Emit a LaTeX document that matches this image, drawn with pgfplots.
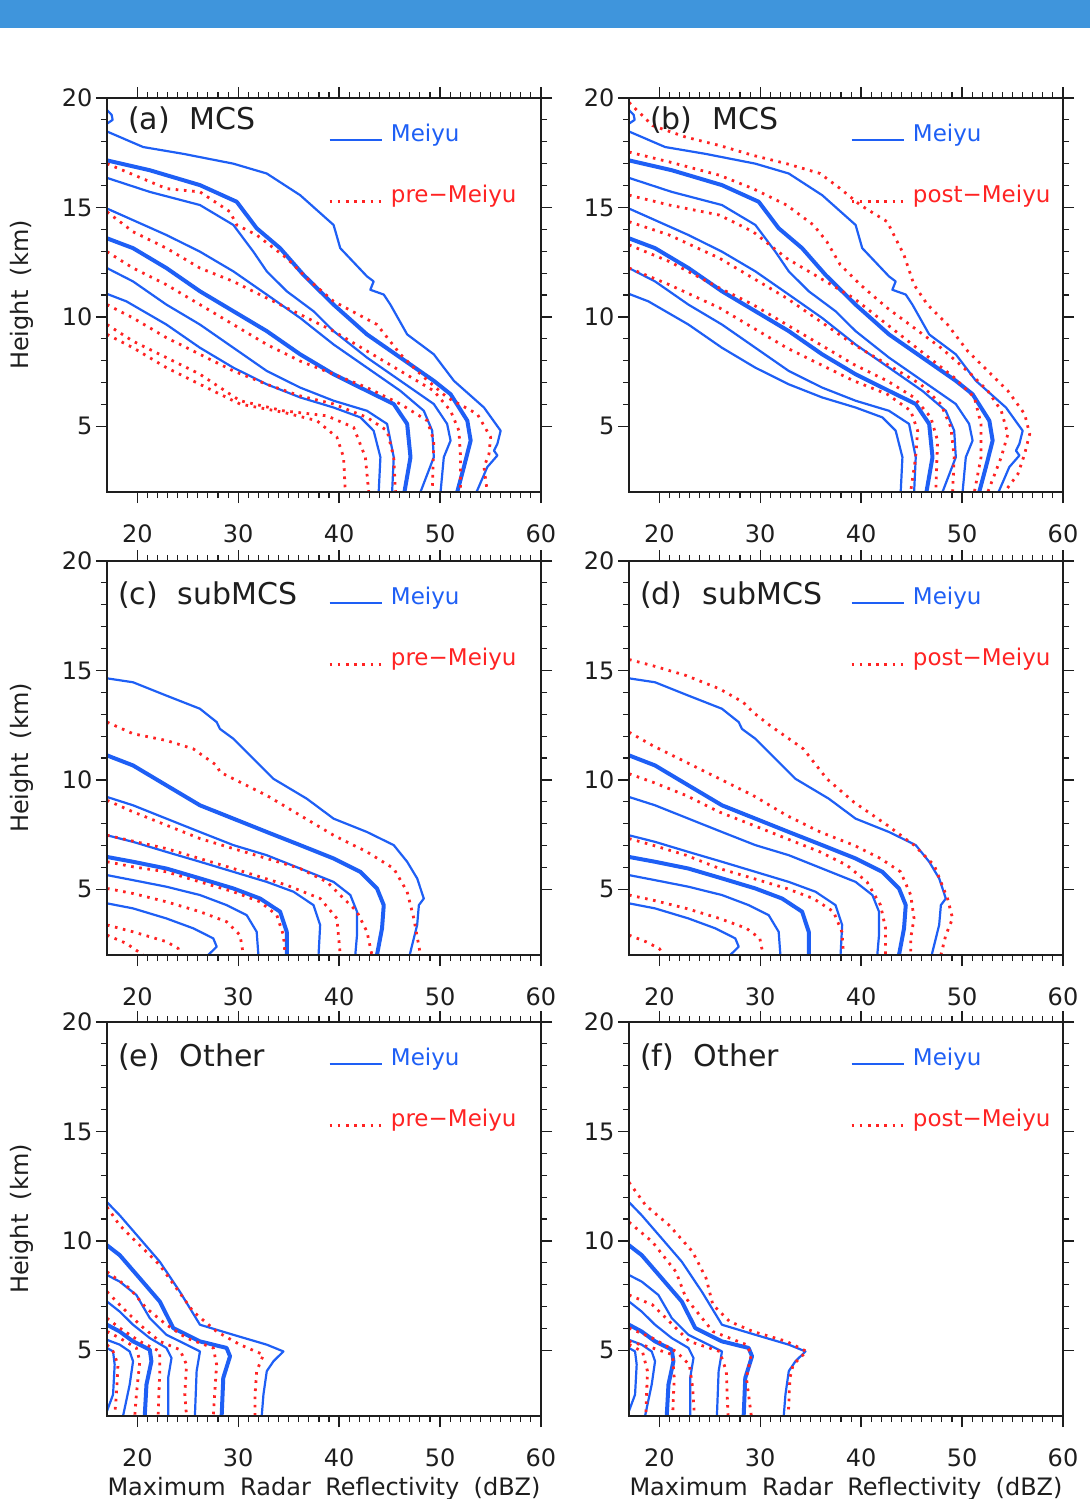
\documentclass[border=0pt]{standalone}
\usepackage{pgfplots}
\pgfplotsset{compat=1.18}
\usepackage{pgfplotstable}
\usepackage{fontspec}
\setmainfont{DejaVu Sans}

\definecolor{myblue}{RGB}{30,95,245}
\definecolor{myred}{RGB}{255,35,35}
\definecolor{banner}{RGB}{63,149,220}
\definecolor{ink}{RGB}{30,30,30}

% ---------------- MCS, Meiyu (shared by a and b) ----------------
\pgfplotstableread[row sep=\\]{
x y\\
17.0 19.45\\ 17.46 19.23\\ 17.56 19.0\\ 17.0 18.83\\ nan nan\\
17.0 18.47\\ 20.58 17.76\\ 24.55 17.45\\ 29.52 17.0\\ 32.83 16.55\\ 36.14 15.56\\ 39.45 14.2\\ 40.11 13.14\\ 42.76 11.85\\ 43.42 11.62\\ 43.09 11.24\\ 44.42 11.02\\ 45.08 10.56\\ 46.74 9.2\\ 49.38 8.29\\ 51.37 7.08\\ 54.35 5.86\\ 56.0 4.8\\ 55.68 4.2\\ 55.34 3.89\\ 55.68 3.67\\ 54.68 3.14\\ 53.69 2.08\\ 53.6 2.0\\ nan nan\\
17.0 16.35\\ 21.24 15.71\\ 26.21 15.11\\ 29.52 14.20\\ 31.50 12.98\\ 32.83 12.08\\ 34.81 11.17\\ 37.46 10.26\\ 39.45 9.35\\ 42.76 8.14\\ 46.07 7.08\\ 49.38 6.02\\ 50.70 5.11\\ 51.04 4.35\\ 50.37 3.59\\ 50.05 2.0\\ nan nan\\
17.0 14.95\\ 19.58 14.42\\ 22.89 13.74\\ 26.21 12.98\\ 29.52 12.08\\ 32.83 11.02\\ 36.14 9.95\\ 39.45 8.74\\ 42.76 7.68\\ 46.07 6.62\\ 48.39 5.71\\ 49.22 4.80\\ 49.38 3.59\\ 48.06 2.0\\ nan nan\\
17.0 12.23\\ 19.58 11.62\\ 22.89 10.56\\ 26.21 9.65\\ 29.52 8.59\\ 32.83 7.53\\ 36.14 6.77\\ 39.45 6.17\\ 42.76 5.71\\ 44.75 5.11\\ 45.41 3.59\\ 45.25 2.0\\ nan nan\\
17.0 11.05\\ 18.92 10.71\\ 22.89 9.65\\ 26.21 8.59\\ 29.52 7.68\\ 32.83 6.92\\ 36.14 6.32\\ 39.45 5.86\\ 42.10 5.41\\ 43.42 4.80\\ 44.09 3.59\\ 43.92 2.0\\
}\mcsMeiyu

\pgfplotstableread[row sep=\\]{
x y\\
17.0 17.15\\ 21.24 16.70\\ 26.21 16.02\\ 29.85 15.26\\ 31.83 14.05\\ 34.15 13.14\\ 36.47 11.92\\ 39.45 10.56\\ 42.76 9.20\\ 46.07 8.14\\ 49.38 7.08\\ 51.04 6.47\\ 52.70 5.26\\ 53.03 4.35\\ 52.36 3.14\\ 51.70 2.0\\ nan nan\\
17.0 13.59\\ 19.58 13.14\\ 22.89 12.23\\ 26.21 11.17\\ 29.52 10.26\\ 32.83 9.35\\ 36.14 8.29\\ 39.45 7.38\\ 42.76 6.62\\ 45.41 6.02\\ 46.74 5.11\\ 47.07 3.59\\ 46.47 2.0\\
}\mcsMeiyuThick

% ---------------- MCS, pre-Meiyu (a) ----------------
\pgfplotstableread[row sep=\\]{
x y\\
17.0 17.0\\ 22.89 15.86\\ 26.21 15.71\\ 29.19 14.80\\ 29.85 14.20\\ 31.83 13.74\\ 34.81 12.68\\ 36.80 11.77\\ 39.45 10.71\\ 43.75 9.65\\ 46.07 8.29\\ 48.06 7.38\\ 50.70 6.32\\ 53.69 5.56\\ 55.01 4.50\\ 54.85 3.74\\ 54.35 3.14\\ 54.68 2.0\\ nan nan\\
17.0 14.80\\ 19.58 13.89\\ 22.89 13.14\\ 26.21 12.23\\ 29.52 11.62\\ 32.83 10.86\\ 36.14 10.11\\ 39.45 9.35\\ 42.76 8.44\\ 46.07 7.53\\ 49.38 6.62\\ 51.04 5.71\\ 51.87 4.80\\ 52.03 3.59\\ 52.03 2.0\\ nan nan\\
17.0 12.98\\ 19.58 12.23\\ 22.89 11.47\\ 26.21 10.56\\ 29.52 9.65\\ 32.83 8.74\\ 36.14 7.98\\ 39.45 7.38\\ 42.76 6.77\\ 46.07 6.02\\ 48.72 5.26\\ 49.38 4.35\\ 49.22 2.0\\ nan nan\\
17.0 10.56\\ 19.58 9.95\\ 22.89 9.05\\ 26.21 8.29\\ 29.52 7.53\\ 32.83 6.92\\ 36.14 6.39\\ 39.45 6.02\\ 42.76 5.41\\ 44.75 4.80\\ 45.41 3.59\\ 45.58 2.0\\ nan nan\\
17.0 9.65\\ 19.58 8.89\\ 22.89 8.14\\ 26.21 7.38\\ 30.18 6.17\\ 34.48 5.71\\ 38.79 5.48\\ 41.44 4.95\\ 42.60 3.59\\ 42.93 2.0\\ nan nan\\
17.0 9.20\\ 19.58 8.59\\ 22.89 7.68\\ 26.21 6.92\\ 30.18 6.02\\ 34.48 5.64\\ 37.79 5.26\\ 39.78 4.50\\ 40.44 3.59\\ 40.61 2.0\\
}\mcsPre

% ---------------- MCS, post-Meiyu (b) ----------------
\pgfplotstableread[row sep=\\]{
x y\\
17.0 19.8\\ 19.33 18.74\\ 22.65 18.21\\ 25.97 17.83\\ 29.29 17.38\\ 32.61 17.0\\ 35.94 16.55\\ 37.93 15.86\\ 39.92 15.11\\ 42.58 14.35\\ 44.24 12.83\\ 45.24 11.47\\ 46.57 10.56\\ 48.56 9.65\\ 50.55 8.44\\ 52.55 7.53\\ 54.54 6.62\\ 56.20 5.56\\ 56.70 4.65\\ 56.20 3.74\\ 55.54 2.83\\ 54.21 2.0\\ nan nan\\
17.0 17.53\\ 20.99 17.08\\ 25.97 16.47\\ 29.29 15.86\\ 32.61 15.11\\ 35.27 14.20\\ 36.60 13.44\\ 37.93 12.38\\ 39.92 11.47\\ 42.58 10.41\\ 45.24 9.50\\ 47.90 8.59\\ 50.89 7.38\\ 52.55 6.62\\ 53.88 5.71\\ 54.54 4.65\\ 53.88 3.59\\ 52.55 2.0\\ nan nan\\
17.0 15.56\\ 20.99 15.11\\ 25.97 14.65\\ 29.29 13.89\\ 32.61 12.68\\ 35.94 11.77\\ 39.26 10.86\\ 42.58 9.65\\ 45.90 8.44\\ 49.22 7.23\\ 51.22 6.32\\ 51.88 5.11\\ 51.88 3.59\\ 51.22 2.0\\ nan nan\\
17.0 14.35\\ 20.99 13.74\\ 25.97 12.68\\ 29.29 11.77\\ 32.61 10.86\\ 35.94 9.80\\ 39.26 8.74\\ 42.58 7.83\\ 45.90 6.92\\ 47.89 6.02\\ 48.89 4.95\\ 49.22 3.59\\ 49.06 2.0\\ nan nan\\
17.0 13.29\\ 20.99 12.53\\ 25.97 11.32\\ 29.29 10.56\\ 32.61 9.65\\ 35.94 8.74\\ 39.26 7.83\\ 42.58 7.08\\ 45.24 6.32\\ 46.90 5.41\\ 47.57 4.35\\ 47.40 2.0\\ nan nan\\
17.0 12.23\\ 20.99 11.47\\ 25.97 10.41\\ 29.29 9.50\\ 32.61 8.59\\ 35.94 7.83\\ 39.26 7.08\\ 42.58 6.47\\ 44.91 5.71\\ 45.60 4.80\\ 45.40 3.59\\ 44.90 2.0\\
}\mcsPost

% ---------------- subMCS, Meiyu (c and d) ----------------
\pgfplotstableread[row sep=\\]{
x y\\
17.0 14.64\\ 19.58 14.46\\ 22.89 13.85\\ 26.21 13.25\\ 27.87 12.64\\ 28.19 12.33\\ 29.52 11.88\\ 31.17 11.12\\ 33.49 10.05\\ 36.80 9.14\\ 39.45 8.23\\ 42.76 7.62\\ 45.41 7.02\\ 46.74 6.26\\ 47.73 5.50\\ 48.39 4.58\\ 47.90 4.28\\ 47.73 3.37\\ 47.07 2.15\\ 47.0 2.0\\ nan nan\\
17.0 9.22\\ 19.58 8.84\\ 22.89 8.23\\ 26.21 7.62\\ 29.52 7.02\\ 32.83 6.56\\ 36.14 5.95\\ 39.45 5.34\\ 41.11 4.74\\ 41.77 3.98\\ 41.77 2.91\\ 41.60 2.0\\ nan nan\\
17.0 7.47\\ 19.58 7.17\\ 22.89 6.71\\ 26.21 6.26\\ 29.52 5.80\\ 32.83 5.34\\ 35.48 4.89\\ 37.46 4.28\\ 38.12 3.37\\ 37.96 2.0\\ nan nan\\
17.0 5.65\\ 19.58 5.42\\ 22.89 5.12\\ 26.21 4.74\\ 28.85 4.28\\ 30.84 3.82\\ 31.83 3.06\\ 32.0 2.0\\ nan nan\\
17.0 4.36\\ 19.58 4.13\\ 22.89 3.67\\ 25.54 3.22\\ 27.53 2.76\\ 27.87 2.38\\ 27.03 2.0\\
}\subMeiyu

\pgfplotstableread[row sep=\\]{
x y\\
17.0 11.12\\ 19.58 10.66\\ 22.89 9.75\\ 26.21 8.84\\ 29.52 8.23\\ 32.83 7.62\\ 36.14 7.02\\ 39.45 6.41\\ 42.10 5.80\\ 43.75 5.04\\ 44.42 4.28\\ 44.25 3.22\\ 43.75 2.0\\ nan nan\\
17.0 6.48\\ 19.58 6.26\\ 22.89 5.95\\ 26.21 5.50\\ 29.52 5.04\\ 32.17 4.58\\ 34.15 3.98\\ 34.81 3.06\\ 34.81 2.0\\
}\subMeiyuThick

% ---------------- subMCS, pre-Meiyu (c) ----------------
\pgfplotstableread[row sep=\\]{
x y\\
17.0 12.64\\ 19.58 12.11\\ 22.89 11.80\\ 25.54 11.42\\ 27.87 10.66\\ 28.19 10.36\\ 29.52 10.05\\ 32.83 9.29\\ 36.14 8.38\\ 39.45 7.47\\ 42.76 6.71\\ 45.41 5.95\\ 46.74 4.89\\ 47.40 3.67\\ 48.06 2.0\\ nan nan\\
17.0 9.07\\ 19.58 8.54\\ 22.89 7.93\\ 26.21 7.32\\ 29.52 6.86\\ 32.83 6.41\\ 36.14 5.95\\ 38.79 5.34\\ 40.11 4.74\\ 41.77 3.98\\ 42.76 3.06\\ 43.25 2.0\\ nan nan\\
17.0 7.47\\ 22.89 6.86\\ 29.52 5.95\\ 34.81 5.19\\ 38.12 4.58\\ 39.78 3.67\\ 40.11 2.0\\ nan nan\\
17.0 6.26\\ 19.58 6.03\\ 22.89 5.80\\ 26.21 5.34\\ 29.52 4.89\\ 32.17 4.43\\ 33.82 3.82\\ 34.48 2.91\\ 34.65 2.0\\ nan nan\\
17.0 5.04\\ 19.58 4.81\\ 22.89 4.43\\ 26.21 3.98\\ 28.85 3.52\\ 30.18 2.91\\ 30.51 2.0\\ nan nan\\
17.0 3.37\\ 19.58 3.06\\ 22.89 2.61\\ 24.05 2.30\\ 24.22 2.0\\ nan nan\\
17.0 2.91\\ 18.92 2.53\\ 20.58 2.0\\
}\subPre

% ---------------- subMCS, post-Meiyu (d) ----------------
\pgfplotstableread[row sep=\\]{
x y\\
17.0 15.50\\ 19.33 15.22\\ 22.65 14.77\\ 25.97 14.16\\ 28.30 13.55\\ 29.29 13.09\\ 30.95 12.49\\ 34.27 11.42\\ 36.60 10.05\\ 39.26 8.99\\ 42.59 7.93\\ 45.24 7.02\\ 47.24 6.10\\ 48.56 4.58\\ 49.06 3.67\\ 48.39 2.91\\ 47.90 2.0\\ nan nan\\
17.0 12.18\\ 19.33 11.57\\ 22.65 10.81\\ 25.97 10.05\\ 29.29 9.29\\ 32.61 8.38\\ 35.94 7.62\\ 39.26 7.02\\ 41.92 6.41\\ 43.91 5.80\\ 44.91 4.74\\ 45.24 3.67\\ 44.91 2.76\\ 44.91 2.0\\ nan nan\\
17.0 10.28\\ 19.33 9.90\\ 22.65 9.29\\ 25.97 8.53\\ 29.29 7.93\\ 32.61 7.32\\ 35.94 6.71\\ 38.59 6.10\\ 40.58 5.34\\ 41.92 4.28\\ 42.42 3.22\\ 42.42 2.0\\ nan nan\\
17.0 7.32\\ 19.33 7.02\\ 22.65 6.56\\ 25.97 5.95\\ 29.29 5.50\\ 32.61 5.04\\ 35.27 4.58\\ 37.26 3.98\\ 38.09 3.06\\ 38.26 2.0\\ nan nan\\
17.0 4.74\\ 19.33 4.51\\ 22.65 4.13\\ 25.97 3.67\\ 28.63 3.22\\ 29.96 2.76\\ 30.29 2.0\\ nan nan\\
17.0 2.91\\ 18.66 2.61\\ 19.99 2.30\\ 20.49 2.0\\
}\subPost

% ---------------- Other, Meiyu (e and f) ----------------
\pgfplotstableread[row sep=\\]{
x y\\
17.0 11.77\\ 18.26 11.17\\ 20.25 10.11\\ 22.23 9.05\\ 24.22 7.68\\ 26.21 6.17\\ 29.52 5.71\\ 32.83 5.26\\ 34.48 4.95\\ 33.49 4.50\\ 32.83 4.05\\ 32.50 2.98\\ 32.33 2.0\\ nan nan\\
17.0 8.44\\ 18.26 8.14\\ 19.91 7.53\\ 21.24 6.47\\ 22.89 5.71\\ 24.88 5.26\\ 26.21 4.95\\ 25.88 4.05\\ 25.71 2.0\\ nan nan\\
17.0 7.23\\ 18.26 6.77\\ 19.58 6.17\\ 21.24 5.56\\ 22.89 5.11\\ 23.39 4.65\\ 23.06 3.74\\ 23.06 2.0\\ nan nan\\
17.0 5.48\\ 18.26 5.26\\ 19.25 4.95\\ 19.58 4.50\\ 19.25 3.44\\ 18.59 2.0\\ nan nan\\
17.0 5.11\\ 17.60 4.95\\ 17.76 4.35\\ 17.60 2.98\\ 17.0 2.23\\
}\othMeiyu

\pgfplotstableread[row sep=\\]{
x y\\
17.0 9.80\\ 18.26 9.35\\ 20.25 8.29\\ 22.23 7.23\\ 23.56 6.02\\ 26.21 5.41\\ 28.85 5.11\\ 29.19 4.73\\ 28.52 3.74\\ 28.36 2.0\\ nan nan\\
17.0 6.17\\ 18.26 5.86\\ 19.58 5.41\\ 21.24 5.03\\ 21.40 4.50\\ 20.91 3.44\\ 20.74 2.0\\
}\othMeiyuThick

% ---------------- Other, pre-Meiyu (e) ----------------
\pgfplotstableread[row sep=\\]{
x y\\
17.0 11.55\\ 18.26 10.71\\ 20.25 9.80\\ 22.23 8.89\\ 23.89 7.83\\ 25.54 6.77\\ 27.86 5.86\\ 30.18 5.26\\ 32.50 4.80\\ 31.83 4.05\\ 31.67 2.98\\ 31.67 2.0\\ nan nan\\
17.0 8.59\\ 19.25 7.83\\ 20.91 6.92\\ 22.89 6.17\\ 24.88 5.56\\ 27.53 5.11\\ 27.86 4.35\\ 27.53 2.0\\ nan nan\\
17.0 7.68\\ 18.26 7.08\\ 20.25 6.17\\ 22.23 5.41\\ 24.22 5.03\\ 24.88 4.35\\ 24.71 2.98\\ 24.88 2.0\\ nan nan\\
17.0 6.47\\ 18.26 6.02\\ 20.25 5.41\\ 22.23 4.95\\ 22.23 4.05\\ 22.06 2.0\\ nan nan\\
17.0 5.86\\ 18.26 5.56\\ 19.91 5.11\\ 20.25 4.50\\ 19.91 2.98\\ 19.75 2.0\\ nan nan\\
17.0 5.26\\ 17.60 4.95\\ 18.09 4.35\\ 17.93 2.98\\ 17.76 2.0\\
}\othPre

% ---------------- Other, post-Meiyu (f) ----------------
\pgfplotstableread[row sep=\\]{
x y\\
17.0 12.68\\ 18.66 11.62\\ 20.99 10.71\\ 23.31 9.50\\ 24.64 8.29\\ 25.31 7.08\\ 26.97 6.32\\ 29.29 5.86\\ 32.61 5.41\\ 34.60 4.95\\ 33.27 4.35\\ 32.94 3.74\\ 32.78 2.0\\ nan nan\\
17.0 10.86\\ 19.33 9.95\\ 21.65 8.59\\ 22.65 7.38\\ 25.31 5.86\\ 28.63 5.26\\ 29.12 4.80\\ 28.63 3.74\\ 29.12 2.0\\ nan nan\\
17.0 7.53\\ 19.33 7.08\\ 20.99 6.32\\ 22.98 5.41\\ 25.97 4.95\\ 26.64 4.05\\ 26.81 2.0\\ nan nan\\
17.0 6.02\\ 19.33 5.56\\ 21.65 4.95\\ 22.98 4.35\\ 23.31 3.29\\ 23.48 2.0\\ nan nan\\
17.0 5.41\\ 19.33 5.11\\ 21.32 4.80\\ 21.48 3.74\\ 21.32 2.0\\ nan nan\\
17.0 5.26\\ 18.33 4.95\\ 18.83 4.05\\ 18.66 2.0\\
}\othPost

\pgfplotsset{
  panel/.style={
    scale only axis, width=434pt, height=394pt, anchor=south west,
    xmin=17, xmax=60, ymin=2, ymax=20,
    xtick={20,30,40,50,60}, ytick={5,10,15,20},
    minor x tick num=9, minor y tick num=4,
    tick align=outside, major tick length=11pt, minor tick length=6pt,
    every tick/.style={ink, line width=1.3pt},
    every minor tick/.style={ink, line width=1.1pt},
    axis line style={ink, line width=1.8pt},
    /pgf/number format/assume math mode=true,
    ticklabel style={font=\fontsize{24}{24}\selectfont, text=ink},
    xticklabel style={yshift=-18pt},
    every axis y label/.style={at={(axis description cs:0,0.5)}, xshift=-85pt,
      rotate=90, anchor=center, font=\fontsize{24}{24}\selectfont, text=ink},
    every axis x label/.style={at={(axis description cs:0.5,0)}, yshift=-73pt,
      anchor=center, font=\fontsize{24}{24}\selectfont, text=ink},
    unbounded coords=jump,
    axis on top,
    legend image code/.code={\draw[##1] (0pt,-7pt) -- (52pt,-7pt);},
    legend style={at={(0.509,0.94)}, anchor=north west, draw=none, fill=none,
      inner sep=0pt, row sep=38pt, font=\fontsize{23}{23}\selectfont,
      /tikz/every odd column/.append style={column sep=6pt}},
    legend cell align=left,
  },
  meiyu/.style={color=myblue, line width=2.2pt, line join=round},
  meiyuthick/.style={color=myblue, line width=4pt, line join=round},
  nonmeiyu/.style={color=myred, line width=2.8pt, dash pattern=on 2.6pt off 5.6pt},
}
\tikzset{plabel/.style={anchor=west, font=\fontsize{30}{30}\selectfont, text=ink, inner sep=0pt}}

\begin{document}
\begin{tikzpicture}
\path[use as bounding box] (0,0) rectangle (1090pt,-1499pt);
\fill[banner] (0,0) rectangle (1090pt,-28pt);

% (a)
\begin{axis}[panel, at={(107pt,-492pt)}, ylabel={Height\hspace{0.6em}(km)}]
  \addplot[meiyu] table {\mcsMeiyu};
  \addlegendentry{\textcolor{myblue}{Meiyu}}
  \addplot[meiyuthick, forget plot] table {\mcsMeiyuThick};
  \addplot[nonmeiyu] table {\mcsPre};
  \addlegendentry{\textcolor{myred}{pre−Meiyu}}
  \node[plabel] at (rel axis cs:0.048,0.944) {(a)\hspace{20pt}MCS};
\end{axis}

% (b)
\begin{axis}[panel, at={(629pt,-492pt)}]
  \addplot[meiyu] table {\mcsMeiyu};
  \addlegendentry{\textcolor{myblue}{Meiyu}}
  \addplot[meiyuthick, forget plot] table {\mcsMeiyuThick};
  \addplot[nonmeiyu] table {\mcsPost};
  \addlegendentry{\textcolor{myred}{post−Meiyu}}
  \node[plabel] at (rel axis cs:0.048,0.944) {(b)\hspace{20pt}MCS};
\end{axis}

% (c)
\begin{axis}[panel, at={(107pt,-955pt)}, ylabel={Height\hspace{0.6em}(km)}]
  \addplot[meiyu] table {\subMeiyu};
  \addlegendentry{\textcolor{myblue}{Meiyu}}
  \addplot[meiyuthick, forget plot] table {\subMeiyuThick};
  \addplot[nonmeiyu] table {\subPre};
  \addlegendentry{\textcolor{myred}{pre−Meiyu}}
  \node[plabel] at (rel axis cs:0.025,0.914) {(c)\hspace{20pt}subMCS};
\end{axis}

% (d)
\begin{axis}[panel, at={(629pt,-955pt)}]
  \addplot[meiyu] table {\subMeiyu};
  \addlegendentry{\textcolor{myblue}{Meiyu}}
  \addplot[meiyuthick, forget plot] table {\subMeiyuThick};
  \addplot[nonmeiyu] table {\subPost};
  \addlegendentry{\textcolor{myred}{post−Meiyu}}
  \node[plabel] at (rel axis cs:0.025,0.914) {(d)\hspace{20pt}subMCS};
\end{axis}

% (e)
\begin{axis}[panel, at={(107pt,-1416pt)}, ylabel={Height\hspace{0.6em}(km)},
  xlabel={Maximum\hspace{0.6em}Radar\hspace{0.6em}Reflectivity\hspace{0.6em}(dBZ)}]
  \addplot[meiyu] table {\othMeiyu};
  \addlegendentry{\textcolor{myblue}{Meiyu}}
  \addplot[meiyuthick, forget plot] table {\othMeiyuThick};
  \addplot[nonmeiyu] table {\othPre};
  \addlegendentry{\textcolor{myred}{pre−Meiyu}}
  \node[plabel] at (rel axis cs:0.025,0.912) {(e)\hspace{20pt}Other};
\end{axis}

% (f)
\begin{axis}[panel, at={(629pt,-1416pt)},
  xlabel={Maximum\hspace{0.6em}Radar\hspace{0.6em}Reflectivity\hspace{0.6em}(dBZ)}]
  \addplot[meiyu] table {\othMeiyu};
  \addlegendentry{\textcolor{myblue}{Meiyu}}
  \addplot[meiyuthick, forget plot] table {\othMeiyuThick};
  \addplot[nonmeiyu] table {\othPost};
  \addlegendentry{\textcolor{myred}{post−Meiyu}}
  \node[plabel] at (rel axis cs:0.025,0.912) {(f)\hspace{20pt}Other};
\end{axis}
\end{tikzpicture}
\end{document}
